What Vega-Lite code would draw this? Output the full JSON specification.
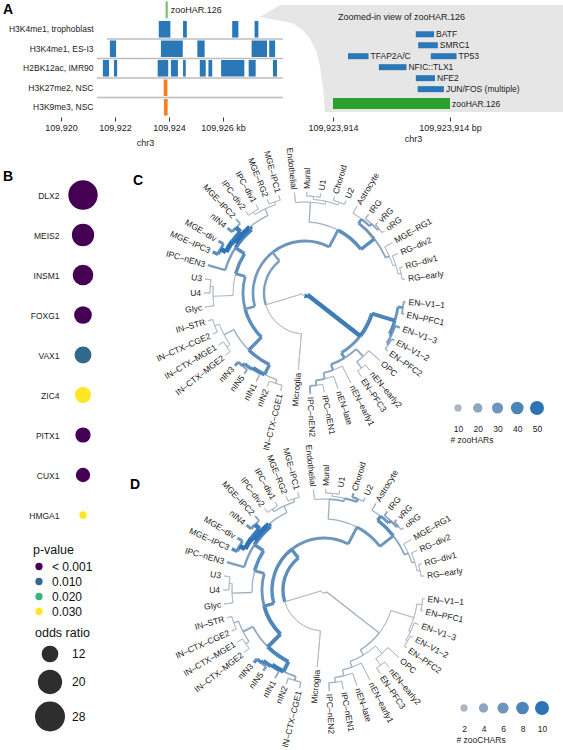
{
  "$schema": "https://vega.github.io/schema/vega-lite/v6.json",
  "padding": 0,
  "background": "white",
  "config": {
    "font": "Liberation Sans",
    "view": {"stroke": null},
    "axis": {"labelFont": "Liberation Sans", "titleFont": "Liberation Sans", "labelColor": "#222", "titleColor": "#222", "grid": false},
    "legend": {"labelFont": "Liberation Sans", "titleFont": "Liberation Sans", "padding": 0, "labelColor": "#111", "titleColor": "#111"},
    "title": {"font": "Liberation Sans", "color": "#000"},
    "text": {"font": "Liberation Sans"}
  },
  "datasets": {
    "sep": [
      {"track": "H3K4me1, ES-I3", "start": 109921.70, "end": 109928.22},
      {"track": "H2BK12ac, IMR90", "start": 109921.33, "end": 109928.22},
      {"track": "H3K27me2, NSC", "start": 109921.33, "end": 109928.22},
      {"track": "H3K9me3, NSC", "start": 109921.33, "end": 109928.22}
    ],
    "peaks": [
      {"track": "H3K4me1, trophoblast", "start": 109923.62, "end": 109924.05, "kind": "active"},
      {"track": "H3K4me1, trophoblast", "start": 109924.52, "end": 109924.66, "kind": "active"},
      {"track": "H3K4me1, trophoblast", "start": 109926.34, "end": 109926.57, "kind": "active"},
      {"track": "H3K4me1, trophoblast", "start": 109927.17, "end": 109927.31, "kind": "active"},
      {"track": "H3K4me1, ES-I3", "start": 109921.81, "end": 109922.04, "kind": "active"},
      {"track": "H3K4me1, ES-I3", "start": 109923.70, "end": 109924.51, "kind": "active"},
      {"track": "H3K4me1, ES-I3", "start": 109925.05, "end": 109925.32, "kind": "active"},
      {"track": "H3K4me1, ES-I3", "start": 109927.06, "end": 109927.63, "kind": "active"},
      {"track": "H3K4me1, ES-I3", "start": 109927.71, "end": 109927.93, "kind": "active"},
      {"track": "H2BK12ac, IMR90", "start": 109921.55, "end": 109921.78, "kind": "active"},
      {"track": "H2BK12ac, IMR90", "start": 109921.96, "end": 109922.08, "kind": "active"},
      {"track": "H2BK12ac, IMR90", "start": 109923.58, "end": 109923.97, "kind": "active"},
      {"track": "H2BK12ac, IMR90", "start": 109924.07, "end": 109924.33, "kind": "active"},
      {"track": "H2BK12ac, IMR90", "start": 109924.52, "end": 109924.62, "kind": "active"},
      {"track": "H2BK12ac, IMR90", "start": 109925.14, "end": 109925.36, "kind": "active"},
      {"track": "H2BK12ac, IMR90", "start": 109925.46, "end": 109925.60, "kind": "active"},
      {"track": "H2BK12ac, IMR90", "start": 109925.93, "end": 109926.79, "kind": "active"},
      {"track": "H2BK12ac, IMR90", "start": 109926.95, "end": 109927.21, "kind": "active"},
      {"track": "H2BK12ac, IMR90", "start": 109927.85, "end": 109928.00, "kind": "active"},
      {"track": "H3K27me2, NSC", "start": 109923.80, "end": 109923.94, "kind": "repressive"},
      {"track": "H3K9me3, NSC", "start": 109923.81, "end": 109923.95, "kind": "repressive"}
    ],
    "har": [{"track": "zooHAR", "pos": 109923.914, "name": "zooHAR.126"}],
    "funnel": [
      {"lane": -0.667, "left": 109923800.8, "right": 109924405.5},
      {"lane": 0.417, "left": 109923758.0, "right": 109924405.5},
      {"lane": 1.0, "left": 109923828.5, "right": 109924405.5},
      {"lane": 1.667, "left": 109923849.9, "right": 109924405.5},
      {"lane": 2.417, "left": 109923864.9, "right": 109924405.5},
      {"lane": 3.5, "left": 109923877.7, "right": 109924405.5},
      {"lane": 4.917, "left": 109923886.2, "right": 109924405.5},
      {"lane": 6.833, "left": 109923892.6, "right": 109924405.5},
      {"lane": 9.083, "left": 109923896.9, "right": 109924405.5}
    ],
    "tfs": [
      {"tf": "BATF", "lane": 2, "start": 109924091, "end": 109924130},
      {"tf": "SMRC1", "lane": 3, "start": 109924096, "end": 109924138},
      {"tf": "TFAP2A/C", "lane": 4, "start": 109923946, "end": 109923990},
      {"tf": "TP53", "lane": 4, "start": 109924123, "end": 109924178},
      {"tf": "NFIC::TLX1", "lane": 5, "start": 109924012, "end": 109924071},
      {"tf": "NFE2", "lane": 6, "start": 109924091, "end": 109924132},
      {"tf": "JUN/FOS (multiple)", "lane": 7, "start": 109924095, "end": 109924151}
    ],
    "harbp": [{"name": "zooHAR.126", "lane": 8, "start": 109923914, "end": 109924164}],
    "genes": [
      {"gene": "DLX2", "or": 27.0, "p": 0.0001},
      {"gene": "MEIS2", "or": 17.6, "p": 0.0001},
      {"gene": "INSM1", "or": 15.8, "p": 0.0002},
      {"gene": "FOXG1", "or": 12.9, "p": 0.0003},
      {"gene": "VAX1", "or": 12.2, "p": 0.010},
      {"gene": "ZIC4", "or": 11.4, "p": 0.031},
      {"gene": "PITX1", "or": 10.8, "p": 0.0004},
      {"gene": "CUX1", "or": 10.1, "p": 0.0005},
      {"gene": "HMGA1", "or": 6.2, "p": 0.035}
    ],
    "legC": [{"n": 10}, {"n": 20}, {"n": 30}, {"n": 40}, {"n": 50}],
    "legD": [{"n": 2}, {"n": 4}, {"n": 6}, {"n": 8}, {"n": 10}],
    "edges": [
      {"c": "N_EN", "tp": 190.5, "rp": 3, "t": 127.9, "r": 70, "nC": 45, "nD": 3},
      {"c": "N_rest", "tp": 190.5, "rp": 3, "t": 253.2, "r": 41, "nC": 10, "nD": 2},
      {"c": "N_ENc", "tp": 127.9, "rp": 70, "t": 107.1, "r": 94, "nC": 40, "nD": 2},
      {"c": "N_nEN", "tp": 127.9, "rp": 70, "t": 148.75, "r": 76, "nC": 30, "nD": 3},
      {"c": "N_ENa", "tp": 107.1, "rp": 94, "t": 98.5, "r": 99, "nC": 30, "nD": 2},
      {"c": "N_ENb", "tp": 107.1, "rp": 94, "t": 115.75, "r": 96, "nC": 35, "nD": 2},
      {"c": "EN–V1–1", "tp": 98.5, "rp": 99, "t": 95, "r": 101, "nC": 20, "nD": 2},
      {"c": "EN–PFC1", "tp": 98.5, "rp": 99, "t": 102, "r": 101, "nC": 20, "nD": 2},
      {"c": "EN–V1–3", "tp": 115.75, "rp": 96, "t": 110, "r": 101, "nC": 25, "nD": 2},
      {"c": "N_ENd", "tp": 115.75, "rp": 96, "t": 121.5, "r": 98, "nC": 25, "nD": 2},
      {"c": "EN–V1–2", "tp": 121.5, "rp": 98, "t": 118, "r": 101, "nC": 20, "nD": 2},
      {"c": "EN–PFC2", "tp": 121.5, "rp": 98, "t": 125, "r": 101, "nC": 15, "nD": 2},
      {"c": "N_x", "tp": 148.75, "rp": 76, "t": 137.5, "r": 86, "nC": 20, "nD": 2},
      {"c": "N_y", "tp": 148.75, "rp": 76, "t": 160, "r": 82, "nC": 25, "nD": 3},
      {"c": "OPC", "tp": 137.5, "rp": 86, "t": 132, "r": 101, "nC": 12, "nD": 2},
      {"c": "N_x2", "tp": 137.5, "rp": 86, "t": 143, "r": 94, "nC": 15, "nD": 2},
      {"c": "nEN–early2", "tp": 143, "rp": 94, "t": 140, "r": 101, "nC": 10, "nD": 2},
      {"c": "EN–PFC3", "tp": 143, "rp": 94, "t": 146, "r": 101, "nC": 10, "nD": 2},
      {"c": "nEN–early1", "tp": 160, "rp": 82, "t": 153, "r": 101, "nC": 10, "nD": 2},
      {"c": "N_y2", "tp": 160, "rp": 82, "t": 167, "r": 88, "nC": 20, "nD": 3},
      {"c": "nEN–late", "tp": 167, "rp": 88, "t": 161, "r": 101, "nC": 10, "nD": 2},
      {"c": "N_y3", "tp": 167, "rp": 88, "t": 173, "r": 93, "nC": 20, "nD": 3},
      {"c": "IPC–nEN1", "tp": 173, "rp": 93, "t": 169, "r": 101, "nC": 12, "nD": 2},
      {"c": "IPC–nEN2", "tp": 173, "rp": 93, "t": 177, "r": 101, "nC": 20, "nD": 3},
      {"c": "Microglia", "tp": 253.2, "rp": 41, "t": 185, "r": 77, "nC": 10, "nD": 2},
      {"c": "N_big", "tp": 253.2, "rp": 41, "t": 321.35, "r": 52, "nC": 25, "nD": 7},
      {"c": "N_left", "tp": 321.35, "rp": 52, "t": 255, "r": 62, "nC": 28, "nD": 7},
      {"c": "N_top", "tp": 321.35, "rp": 52, "t": 387.7, "r": 71, "nC": 30, "nD": 6},
      {"c": "N_IN", "tp": 255, "rp": 62, "t": 224.6, "r": 80, "nC": 35, "nD": 8},
      {"c": "N_UMGE", "tp": 255, "rp": 62, "t": 285.5, "r": 72, "nC": 30, "nD": 6},
      {"c": "N_nIN", "tp": 224.6, "rp": 80, "t": 206.4, "r": 91, "nC": 35, "nD": 8},
      {"c": "N_INctx", "tp": 224.6, "rp": 80, "t": 242.75, "r": 91, "nC": 15, "nD": 4},
      {"c": "N_n1", "tp": 206.4, "rp": 91, "t": 198, "r": 95, "nC": 15, "nD": 4},
      {"c": "N_n2", "tp": 206.4, "rp": 91, "t": 214.75, "r": 93, "nC": 40, "nD": 9},
      {"c": "IN–CTX–CGE1", "tp": 198, "rp": 95, "t": 194, "r": 101, "nC": 10, "nD": 3},
      {"c": "nIN2", "tp": 198, "rp": 95, "t": 202, "r": 101, "nC": 10, "nD": 3},
      {"c": "nIN1", "tp": 214.75, "rp": 93, "t": 209, "r": 101, "nC": 15, "nD": 4},
      {"c": "N_n3", "tp": 214.75, "rp": 93, "t": 220.5, "r": 96, "nC": 35, "nD": 8},
      {"c": "nIN5", "tp": 220.5, "rp": 96, "t": 217, "r": 101, "nC": 20, "nD": 5},
      {"c": "nIN3", "tp": 220.5, "rp": 96, "t": 224, "r": 101, "nC": 30, "nD": 7},
      {"c": "N_c1", "tp": 242.75, "rp": 91, "t": 235.5, "r": 95, "nC": 12, "nD": 3},
      {"c": "N_c2", "tp": 242.75, "rp": 91, "t": 250, "r": 96, "nC": 12, "nD": 3},
      {"c": "IN–CTX–MGE2", "tp": 235.5, "rp": 95, "t": 232, "r": 101, "nC": 10, "nD": 2},
      {"c": "IN–CTX–MGE1", "tp": 235.5, "rp": 95, "t": 239, "r": 101, "nC": 10, "nD": 2},
      {"c": "IN–CTX–CGE2", "tp": 250, "rp": 96, "t": 246, "r": 101, "nC": 10, "nD": 2},
      {"c": "IN–STR", "tp": 250, "rp": 96, "t": 254, "r": 101, "nC": 10, "nD": 2},
      {"c": "N_U", "tp": 285.5, "rp": 72, "t": 268, "r": 92, "nC": 12, "nD": 3},
      {"c": "N_MGE", "tp": 285.5, "rp": 72, "t": 303, "r": 83, "nC": 35, "nD": 7},
      {"c": "Glyc", "tp": 268, "rp": 92, "t": 262, "r": 101, "nC": 10, "nD": 2},
      {"c": "N_u2", "tp": 268, "rp": 92, "t": 274, "r": 95, "nC": 10, "nD": 2},
      {"c": "U4", "tp": 274, "rp": 95, "t": 270, "r": 101, "nC": 10, "nD": 2},
      {"c": "U3", "tp": 274, "rp": 95, "t": 278, "r": 101, "nC": 10, "nD": 2},
      {"c": "IPC–nEN3", "tp": 303, "rp": 83, "t": 286, "r": 101, "nC": 25, "nD": 5},
      {"c": "N_M2", "tp": 303, "rp": 83, "t": 320, "r": 86, "nC": 40, "nD": 8},
      {"c": "N_M3", "tp": 320, "rp": 86, "t": 305.5, "r": 89, "nC": 50, "nD": 10},
      {"c": "N_M4", "tp": 320, "rp": 86, "t": 334.5, "r": 93, "nC": 15, "nD": 3},
      {"c": "N_m31", "tp": 305.5, "rp": 89, "t": 297.5, "r": 95, "nC": 50, "nD": 10},
      {"c": "N_m32", "tp": 305.5, "rp": 89, "t": 313.5, "r": 95, "nC": 45, "nD": 9},
      {"c": "MGE–IPC3", "tp": 297.5, "rp": 95, "t": 294, "r": 101, "nC": 35, "nD": 7},
      {"c": "MGE–div", "tp": 297.5, "rp": 95, "t": 301, "r": 101, "nC": 30, "nD": 6},
      {"c": "nIN4", "tp": 313.5, "rp": 95, "t": 310, "r": 101, "nC": 30, "nD": 6},
      {"c": "MGE–IPC2", "tp": 313.5, "rp": 95, "t": 317, "r": 101, "nC": 20, "nD": 4},
      {"c": "N_m41", "tp": 334.5, "rp": 93, "t": 327.5, "r": 96, "nC": 12, "nD": 3},
      {"c": "N_m42", "tp": 334.5, "rp": 93, "t": 341.5, "r": 96, "nC": 12, "nD": 3},
      {"c": "IPC–div2", "tp": 327.5, "rp": 96, "t": 324, "r": 101, "nC": 10, "nD": 2},
      {"c": "IPC–div1", "tp": 327.5, "rp": 96, "t": 331, "r": 101, "nC": 10, "nD": 2},
      {"c": "MGE–RG2", "tp": 341.5, "rp": 96, "t": 338, "r": 101, "nC": 10, "nD": 2},
      {"c": "MGE–IPC1", "tp": 341.5, "rp": 96, "t": 345, "r": 101, "nC": 10, "nD": 2},
      {"c": "N_vasc", "tp": 387.7, "rp": 71, "t": 363.4, "r": 91, "nC": 15, "nD": 3},
      {"c": "N_glia", "tp": 387.7, "rp": 71, "t": 412, "r": 88, "nC": 35, "nD": 6},
      {"c": "Endothelial", "tp": 363.4, "rp": 91, "t": 354, "r": 101, "nC": 10, "nD": 2},
      {"c": "N_v2", "tp": 363.4, "rp": 91, "t": 372.75, "r": 94, "nC": 12, "nD": 4},
      {"c": "N_v3", "tp": 372.75, "rp": 94, "t": 365, "r": 97, "nC": 10, "nD": 2},
      {"c": "N_v4", "tp": 372.75, "rp": 94, "t": 380.5, "r": 97, "nC": 12, "nD": 5},
      {"c": "Mural", "tp": 365, "rp": 97, "t": 361, "r": 101, "nC": 10, "nD": 2},
      {"c": "U1", "tp": 365, "rp": 97, "t": 369, "r": 101, "nC": 10, "nD": 2},
      {"c": "Choroid", "tp": 380.5, "rp": 97, "t": 377, "r": 101, "nC": 12, "nD": 5},
      {"c": "U2", "tp": 380.5, "rp": 97, "t": 384, "r": 101, "nC": 10, "nD": 3},
      {"c": "N_astro", "tp": 412, "rp": 88, "t": 397.5, "r": 93, "nC": 30, "nD": 7},
      {"c": "N_RG", "tp": 412, "rp": 88, "t": 426.4, "r": 92, "nC": 20, "nD": 4},
      {"c": "Astrocyte", "tp": 397.5, "rp": 93, "t": 391, "r": 101, "nC": 12, "nD": 3},
      {"c": "N_a2", "tp": 397.5, "rp": 93, "t": 404, "r": 96, "nC": 25, "nD": 6},
      {"c": "tRG", "tp": 404, "rp": 96, "t": 399, "r": 101, "nC": 15, "nD": 4},
      {"c": "N_a3", "tp": 404, "rp": 96, "t": 409, "r": 98, "nC": 20, "nD": 5},
      {"c": "vRG", "tp": 409, "rp": 98, "t": 406, "r": 101, "nC": 15, "nD": 4},
      {"c": "oRG", "tp": 409, "rp": 98, "t": 412, "r": 101, "nC": 12, "nD": 3},
      {"c": "MGE–RG1", "tp": 426.4, "rp": 92, "t": 420, "r": 101, "nC": 10, "nD": 2},
      {"c": "N_r2", "tp": 426.4, "rp": 92, "t": 432.75, "r": 95, "nC": 12, "nD": 3},
      {"c": "RG–div2", "tp": 432.75, "rp": 95, "t": 427, "r": 101, "nC": 10, "nD": 2},
      {"c": "N_r3", "tp": 432.75, "rp": 95, "t": 438.5, "r": 98, "nC": 10, "nD": 2},
      {"c": "RG–div1", "tp": 438.5, "rp": 98, "t": 435, "r": 101, "nC": 10, "nD": 2},
      {"c": "RG–early", "tp": 438.5, "rp": 98, "t": 442, "r": 101, "nC": 10, "nD": 2}
    ],
    "leaves": [
      {"name": "Microglia", "t": 185, "r": 77},
      {"name": "IN–CTX–CGE1", "t": 194, "r": 101},
      {"name": "nIN2", "t": 202, "r": 101},
      {"name": "nIN1", "t": 209, "r": 101},
      {"name": "nIN5", "t": 217, "r": 101},
      {"name": "nIN3", "t": 224, "r": 101},
      {"name": "IN–CTX–MGE2", "t": 232, "r": 101},
      {"name": "IN–CTX–MGE1", "t": 239, "r": 101},
      {"name": "IN–CTX–CGE2", "t": 246, "r": 101},
      {"name": "IN–STR", "t": 254, "r": 101},
      {"name": "Glyc", "t": 262, "r": 101},
      {"name": "U4", "t": 270, "r": 101},
      {"name": "U3", "t": 278, "r": 101},
      {"name": "IPC–nEN3", "t": 286, "r": 101},
      {"name": "MGE–IPC3", "t": 294, "r": 101},
      {"name": "MGE–div", "t": 301, "r": 101},
      {"name": "nIN4", "t": 310, "r": 101},
      {"name": "MGE–IPC2", "t": 317, "r": 101},
      {"name": "IPC–div2", "t": 324, "r": 101},
      {"name": "IPC–div1", "t": 331, "r": 101},
      {"name": "MGE–RG2", "t": 338, "r": 101},
      {"name": "MGE–IPC1", "t": 345, "r": 101},
      {"name": "Endothelial", "t": 354, "r": 101},
      {"name": "Mural", "t": 1, "r": 101},
      {"name": "U1", "t": 9, "r": 101},
      {"name": "Choroid", "t": 17, "r": 101},
      {"name": "U2", "t": 24, "r": 101},
      {"name": "Astrocyte", "t": 31, "r": 101},
      {"name": "tRG", "t": 39, "r": 101},
      {"name": "vRG", "t": 46, "r": 101},
      {"name": "oRG", "t": 52, "r": 101},
      {"name": "MGE–RG1", "t": 60, "r": 101},
      {"name": "RG–div2", "t": 67, "r": 101},
      {"name": "RG–div1", "t": 75, "r": 101},
      {"name": "RG–early", "t": 82, "r": 101},
      {"name": "EN–V1–1", "t": 95, "r": 101},
      {"name": "EN–PFC1", "t": 102, "r": 101},
      {"name": "EN–V1–3", "t": 110, "r": 101},
      {"name": "EN–V1–2", "t": 118, "r": 101},
      {"name": "EN–PFC2", "t": 125, "r": 101},
      {"name": "OPC", "t": 132, "r": 101},
      {"name": "nEN–early2", "t": 140, "r": 101},
      {"name": "EN–PFC3", "t": 146, "r": 101},
      {"name": "nEN–early1", "t": 153, "r": 101},
      {"name": "nEN–late", "t": 161, "r": 101},
      {"name": "IPC–nEN1", "t": 169, "r": 101},
      {"name": "IPC–nEN2", "t": 177, "r": 101}
    ]
  },
  "bounds": "flush",
  "spacing": 175,
  "resolve": {"scale": {"x": "independent", "y": "independent", "color": "independent", "size": "independent", "stroke": "independent", "strokeWidth": "independent", "theta": "independent", "radius": "independent", "angle": "independent"}, "legend": {"color": "independent", "size": "independent"}},
  "vconcat": [
    {
      "hconcat": [
        {
          "width": 262,
          "height": 117,
          "title": {"text": "A", "anchor": "start", "frame": "group", "offset": -17, "dx": 3, "fontSize": 14, "fontWeight": "bold"},
          "layer": [
            {
              "data": {"name": "sep"},
              "mark": {"type": "rule", "stroke": "#BDBDBD", "strokeWidth": 1.5},
              "encoding": {
                "y": {"field": "track", "type": "nominal", "bandPosition": 0,
                  "scale": {"domain": ["zooHAR", "H3K4me1, trophoblast", "H3K4me1, ES-I3", "H2BK12ac, IMR90", "H3K27me2, NSC", "H3K9me3, NSC"], "paddingInner": 0, "paddingOuter": 0},
                  "axis": {"title": null, "domain": false, "ticks": false, "labelPadding": -93, "labelFontSize": 8.5, "labelExpr": "datum.value == 'zooHAR' ? '' : datum.value"}},
                "x": {"field": "start", "type": "quantitative",
                  "scale": {"domain": [109917.74, 109927.444], "nice": false, "zero": false},
                  "axis": {"values": [109920, 109922, 109924, 109926], "labelExpr": "datum.value == 109926 ? '109,926 kb' : format(datum.value, ',')", "domain": false, "tickSize": 4, "tickColor": "#333", "labelPadding": 2, "labelFontSize": 9, "labelFlush": false, "title": "chr3", "titleX": 145, "titleFontSize": 9, "titleFontWeight": "normal", "titlePadding": 6}},
                "x2": {"field": "end"}
              }
            },
            {
              "data": {"name": "peaks"},
              "mark": {"type": "bar", "height": {"band": 0.85}},
              "encoding": {
                "y": {"field": "track", "type": "nominal"},
                "x": {"field": "start", "type": "quantitative"},
                "x2": {"field": "end"},
                "color": {"field": "kind", "type": "nominal", "scale": {"domain": ["active", "repressive"], "range": ["#2B78B8", "#F5821F"]}, "legend": null}
              }
            },
            {
              "data": {"name": "har"},
              "mark": {"type": "tick", "orient": "vertical", "color": "#2CA02C", "thickness": 2, "size": 17},
              "encoding": {"x": {"field": "pos", "type": "quantitative"}, "y": {"field": "track", "type": "nominal"}}
            },
            {
              "data": {"name": "har"},
              "mark": {"type": "text", "align": "left", "dx": 4, "fontSize": 9, "color": "#222"},
              "encoding": {"x": {"field": "pos", "type": "quantitative"}, "y": {"field": "track", "type": "nominal"}, "text": {"field": "name"}}
            }
          ]
        },
        {
          "width": 301,
          "height": 117,
          "title": {"text": "Zoomed-in view of zooHAR.126", "anchor": "start", "frame": "group", "offset": -22, "dx": 76, "fontSize": 9, "fontWeight": "normal", "color": "#222"},
          "layer": [
            {
              "data": {"name": "funnel"},
              "mark": {"type": "area", "orient": "horizontal", "color": "#E6E6E6"},
              "encoding": {
                "y": {"field": "lane", "type": "quantitative", "scale": {"domain": [-0.667, 9.083], "reverse": true, "nice": false, "zero": false}, "axis": null},
                "x": {"field": "left", "type": "quantitative", "scale": {"domain": [109923762.3, 109924405.5], "nice": false, "zero": false},
                  "axis": {"values": [109923914, 109924164], "labelExpr": "datum.value > 109924000 ? '109,923,914 bp' : '109,923,914'", "domain": false, "tickSize": 4, "tickColor": "#333", "labelPadding": 2, "labelFontSize": 9, "labelFlush": false, "title": "chr3", "titleX": 151, "titleFontSize": 9, "titleFontWeight": "normal", "titlePadding": 2}},
                "x2": {"field": "right"}
              }
            },
            {
              "data": {"name": "tfs"},
              "mark": {"type": "bar", "orient": "horizontal", "size": 6, "color": "#2B78B8"},
              "encoding": {"y": {"field": "lane", "type": "quantitative"}, "x": {"field": "start", "type": "quantitative"}, "x2": {"field": "end"}}
            },
            {
              "data": {"name": "tfs"},
              "mark": {"type": "text", "align": "left", "dx": 2, "fontSize": 8.5, "color": "#222"},
              "encoding": {"y": {"field": "lane", "type": "quantitative"}, "x": {"field": "end", "type": "quantitative"}, "text": {"field": "tf"}}
            },
            {
              "data": {"name": "harbp"},
              "mark": {"type": "bar", "orient": "horizontal", "size": 11, "yOffset": 3.5, "color": "#2CA02C"},
              "encoding": {"y": {"field": "lane", "type": "quantitative"}, "x": {"field": "start", "type": "quantitative"}, "x2": {"field": "end"}}
            },
            {
              "data": {"name": "harbp"},
              "mark": {"type": "text", "align": "left", "dx": 2, "yOffset": 3.5, "fontSize": 8.5, "color": "#222"},
              "encoding": {"y": {"field": "lane", "type": "quantitative"}, "x": {"field": "end", "type": "quantitative"}, "text": {"field": "name"}}
            }
          ]
        }
      ],
      "spacing": 0,
      "bounds": "flush",
      "resolve": {"scale": {"x": "independent", "y": "independent", "color": "independent"}}
    },
    {
      "hconcat": [
        {
          "width": 166,
          "height": 360,
          "title": {"text": "B", "anchor": "start", "frame": "group", "offset": -9, "dx": 3, "fontSize": 14, "fontWeight": "bold"},
          "data": {"name": "genes"},
          "mark": {"type": "circle", "opacity": 1},
          "encoding": {
            "y": {"field": "gene", "type": "nominal", "sort": null, "scale": {"paddingInner": 0, "paddingOuter": 0},
              "axis": {"title": null, "domain": false, "ticks": false, "labelPadding": -59, "labelFontSize": 8.5, "labelColor": "#222"}},
            "color": {"field": "p", "type": "quantitative",
              "scale": {"domain": [0.001, 0.01, 0.02, 0.03], "range": ["#440154", "#31688E", "#35B779", "#FDE725"], "clamp": true, "interpolate": "rgb"},
              "legend": {"type": "symbol", "title": "p-value", "values": [0.001, 0.01, 0.02, 0.03], "orient": "none", "legendX": 33, "legendY": 369, "direction": "vertical", "symbolType": "circle", "symbolSize": 53, "symbolStrokeWidth": 0, "symbolOpacity": 1, "labelFontSize": 12, "titleFontSize": 12.5, "titleFontWeight": "normal", "labelOffset": 7, "rowPadding": 3, "titlePadding": 4,
                "labelExpr": "datum.value <= 0.001 ? '< 0.001' : '\u00a0\u00a0\u00a0' + format(datum.value, '.3f')"}},
            "size": {"field": "or", "type": "quantitative",
              "scale": {"domain": [4.82, 28], "range": [0, 900], "zero": false},
              "legend": {"title": "odds ratio", "values": [12, 20, 28], "orient": "none", "legendX": 35, "legendY": 452, "direction": "vertical", "symbolType": "circle", "symbolFillColor": "#2E2E2E", "symbolStrokeWidth": 0, "symbolOpacity": 1, "labelFontSize": 12, "titleFontSize": 12.5, "titleFontWeight": "normal", "labelOffset": 7, "rowPadding": 7, "titlePadding": 6}}
          }
        },
        {
          "hconcat": [
            {
              "vconcat": [
                {
                  "width": 278,
                  "height": 236,
                  "title": {"text": "C", "anchor": "start", "frame": "group", "offset": -41, "dx": -33, "fontSize": 14, "fontWeight": "bold"},
                  "layer": [
                    {
                      "data": {"name": "edges"},
                      "mark": {"type": "arc", "filled": false},
                      "encoding": {
                        "theta": {"field": "tp", "type": "quantitative", "stack": null, "scale": {"domain": [0, 360], "range": [0, 6.283185307179586]}},
                        "theta2": {"field": "t"},
                        "radius": {"field": "rp", "type": "quantitative", "scale": {"type": "linear", "domain": [0, 100], "range": [0, 100], "zero": true}},
                        "radius2": {"field": "rp"},
                        "stroke": {"field": "nC", "type": "quantitative", "scale": {"domain": [10, 50], "range": ["#ADB7C4", "#2C74B6"], "clamp": true, "interpolate": "rgb"}, "legend": null},
                        "strokeWidth": {"field": "nC", "type": "quantitative", "scale": {"domain": [10, 50], "range": [0.8, 5], "clamp": true}, "legend": null},
                        "order": {"field": "nC", "type": "quantitative"}
                      }
                    },
                    {
                      "data": {"name": "edges"},
                      "mark": {"type": "arc", "filled": false},
                      "encoding": {
                        "theta": {"field": "t", "type": "quantitative", "stack": null},
                        "theta2": {"field": "t"},
                        "radius": {"field": "rp", "type": "quantitative"},
                        "radius2": {"field": "r"},
                        "stroke": {"field": "nC", "type": "quantitative", "legend": null},
                        "strokeWidth": {"field": "nC", "type": "quantitative", "legend": null},
                        "order": {"field": "nC", "type": "quantitative"}
                      }
                    },
                    {
                      "data": {"name": "leaves"},
                      "transform": [{"filter": "datum.t < 180"}],
                      "mark": {"type": "text", "align": "left", "baseline": "middle", "radiusOffset": 3, "fontSize": 8.5, "color": "#222"},
                      "encoding": {
                        "theta": {"field": "t", "type": "quantitative", "stack": null},
                        "radius": {"field": "r", "type": "quantitative"},
                        "angle": {"field": "t", "type": "quantitative", "scale": {"domain": [0, 180], "range": [-90, 90]}},
                        "text": {"field": "name"}
                      }
                    },
                    {
                      "data": {"name": "leaves"},
                      "transform": [{"filter": "datum.t >= 180"}],
                      "mark": {"type": "text", "align": "right", "baseline": "middle", "radiusOffset": 3, "fontSize": 8.5, "color": "#222"},
                      "encoding": {
                        "theta": {"field": "t", "type": "quantitative", "stack": null},
                        "radius": {"field": "r", "type": "quantitative"},
                        "angle": {"field": "t", "type": "quantitative", "scale": {"domain": [180, 360], "range": [-90, 90]}},
                        "text": {"field": "name"}
                      }
                    }
                  ],
                  "resolve": {"scale": {"angle": "independent"}}
                },
                {
                  "width": 316,
                  "height": 286,
                  "title": {"text": "D", "anchor": "start", "frame": "group", "offset": -48, "dx": -36, "fontSize": 14, "fontWeight": "bold"},
                  "layer": [
                    {
                      "data": {"name": "edges"},
                      "mark": {"type": "arc", "filled": false},
                      "encoding": {
                        "theta": {"field": "tp", "type": "quantitative", "stack": null, "scale": {"domain": [0, 360], "range": [0, 6.283185307179586]}},
                        "theta2": {"field": "t"},
                        "radius": {"field": "rp", "type": "quantitative", "scale": {"type": "linear", "domain": [0, 100], "range": [0, 100], "zero": true}},
                        "radius2": {"field": "rp"},
                        "stroke": {"field": "nD", "type": "quantitative", "scale": {"domain": [2, 10], "range": ["#ADB7C4", "#2C74B6"], "clamp": true, "interpolate": "rgb"}, "legend": null},
                        "strokeWidth": {"field": "nD", "type": "quantitative", "scale": {"domain": [2, 10], "range": [0.8, 5], "clamp": true}, "legend": null},
                        "order": {"field": "nD", "type": "quantitative"}
                      }
                    },
                    {
                      "data": {"name": "edges"},
                      "mark": {"type": "arc", "filled": false},
                      "encoding": {
                        "theta": {"field": "t", "type": "quantitative", "stack": null},
                        "theta2": {"field": "t"},
                        "radius": {"field": "rp", "type": "quantitative"},
                        "radius2": {"field": "r"},
                        "stroke": {"field": "nD", "type": "quantitative", "legend": null},
                        "strokeWidth": {"field": "nD", "type": "quantitative", "legend": null},
                        "order": {"field": "nD", "type": "quantitative"}
                      }
                    },
                    {
                      "data": {"name": "leaves"},
                      "transform": [{"filter": "datum.t < 180"}],
                      "mark": {"type": "text", "align": "left", "baseline": "middle", "radiusOffset": 3, "fontSize": 8.5, "color": "#222"},
                      "encoding": {
                        "theta": {"field": "t", "type": "quantitative", "stack": null},
                        "radius": {"field": "r", "type": "quantitative"},
                        "angle": {"field": "t", "type": "quantitative", "scale": {"domain": [0, 180], "range": [-90, 90]}},
                        "text": {"field": "name"}
                      }
                    },
                    {
                      "data": {"name": "leaves"},
                      "transform": [{"filter": "datum.t >= 180"}],
                      "mark": {"type": "text", "align": "right", "baseline": "middle", "radiusOffset": 3, "fontSize": 8.5, "color": "#222"},
                      "encoding": {
                        "theta": {"field": "t", "type": "quantitative", "stack": null},
                        "radius": {"field": "r", "type": "quantitative"},
                        "angle": {"field": "t", "type": "quantitative", "scale": {"domain": [180, 360], "range": [-90, 90]}},
                        "text": {"field": "name"}
                      }
                    }
                  ],
                  "resolve": {"scale": {"angle": "independent"}}
                }
              ],
              "spacing": 36,
              "bounds": "flush",
              "resolve": {"scale": {"theta": "independent", "radius": "independent", "stroke": "independent", "strokeWidth": "independent", "angle": "independent"}}
            },
            {
              "vconcat": [
                {
                  "width": 93,
                  "height": 466,
                  "data": {"name": "legC"},
                  "mark": {"type": "circle", "opacity": 1},
                  "encoding": {
                    "x": {"field": "n", "type": "ordinal", "scale": {"type": "point", "padding": 0.354},
                      "axis": {"orient": "bottom", "offset": -219, "domain": false, "ticks": false, "labelPadding": 2, "labelAngle": 0, "labelFontSize": 8.5, "labelColor": "#222", "title": "# zooHARs", "titleFontSize": 8.5, "titleFontWeight": "normal", "titleColor": "#222", "titlePadding": 3, "titleX": -1, "titleAlign": "left", "titleAnchor": "start"}},
                    "color": {"field": "n", "type": "quantitative", "scale": {"domain": [10, 50], "range": ["#ADB7C4", "#2C74B6"], "interpolate": "rgb"}, "legend": null},
                    "size": {"field": "n", "type": "quantitative", "scale": {"domain": [10, 50], "range": [53, 196]}, "legend": null}
                  }
                },
                {
                  "width": 104,
                  "height": 134,
                  "data": {"name": "legD"},
                  "mark": {"type": "circle", "opacity": 1},
                  "encoding": {
                    "x": {"field": "n", "type": "ordinal", "scale": {"type": "point", "padding": 0.667},
                      "axis": {"orient": "bottom", "offset": -53, "domain": false, "ticks": false, "labelPadding": 2, "labelAngle": 0, "labelFontSize": 8.5, "labelColor": "#222", "title": "# zooCHARs", "titleFontSize": 8.5, "titleFontWeight": "normal", "titleColor": "#222", "titlePadding": 3, "titleX": 5, "titleAlign": "left", "titleAnchor": "start"}},
                    "color": {"field": "n", "type": "quantitative", "scale": {"domain": [2, 10], "range": ["#ADB7C4", "#2C74B6"], "interpolate": "rgb"}, "legend": null},
                    "size": {"field": "n", "type": "quantitative", "scale": {"domain": [2, 10], "range": [53, 196]}, "legend": null}
                  }
                }
              ],
              "spacing": 0,
              "bounds": "flush",
              "resolve": {"scale": {"x": "independent", "color": "independent", "size": "independent"}}
            }
          ],
          "spacing": 285,
          "bounds": "flush",
          "resolve": {"scale": {"x": "independent", "y": "independent", "color": "independent", "size": "independent", "stroke": "independent", "strokeWidth": "independent", "theta": "independent", "radius": "independent", "angle": "independent"}}
        }
      ],
      "spacing": 0,
      "bounds": "flush",
      "resolve": {"scale": {"x": "independent", "y": "independent", "color": "independent", "size": "independent", "stroke": "independent", "strokeWidth": "independent", "theta": "independent", "radius": "independent", "angle": "independent"}, "legend": {"color": "independent", "size": "independent"}}
    }
  ]
}
